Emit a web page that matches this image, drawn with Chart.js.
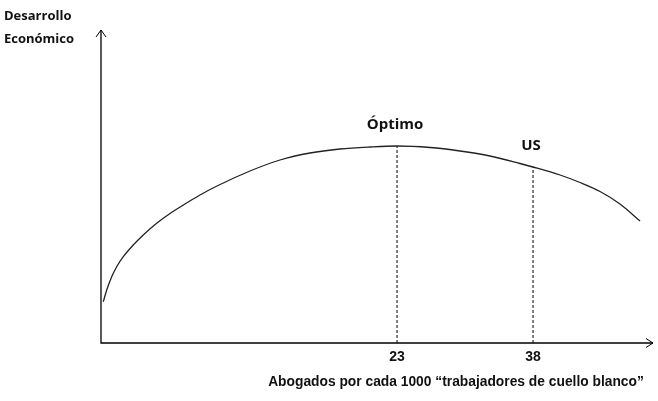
<!DOCTYPE html>
<html>
<head>
<meta charset="utf-8">
<script src="https://cdn.jsdelivr.net/npm/chart.js@4/dist/chart.umd.min.js"></script>
<style>
  html, body { margin: 0; padding: 0; background: #fff; }
  #c { display: block; }
</style>
</head>
<body>
<canvas id="c" width="658" height="401"></canvas>
<script>
// ---- data (arbitrary units) ----
const curveX = [-9.40, -9.02, -8.47, -7.92, -7.19, -6.09, -4.99, -3.51, -2.04, -0.57, 1.27, 3.14, 6.78, 10.09, 13.40, 16.71, 20.02, 23, 26.64, 29.94, 33.25, 36.56, 38, 40.98, 43.18, 45.39, 47.59, 49.80];
const curveY = [41.3, 53, 66.3, 76.3, 86.3, 98, 108, 119.7, 129.5, 138, 148, 157, 172, 183, 190, 194, 196, 197, 195.5, 192, 187, 179.5, 176, 168, 160.5, 151.5, 139, 122];
const markerX = [23, 38];
const markerY = [197, 176];
const markerLabels = ["Óptimo", "US"];
const tickValues = [23, 38];
const yTitleLines = ["Desarrollo", "Económico"];
const xTitle = "Abogados por cada 1000 \u201ctrabajadores de cuello blanco\u201d";

const curveData = curveX.map((x, i) => ({ x, y: curveY[i] }));
const dashSets = markerX.map((x, i) => ({
  type: 'line',
  data: [{ x, y: 0 }, { x, y: markerY[i] }],
  borderColor: '#000',
  borderWidth: 1,
  borderDash: [3, 2],
  pointRadius: 0,
  tension: 0
}));

const overlay = {
  id: 'overlay',
  afterDraw(chart) {
    const ctx = chart.ctx;
    const a = chart.chartArea;
    const xs = chart.scales.x, ys = chart.scales.y;
    ctx.save();
    ctx.strokeStyle = '#000';
    ctx.lineWidth = 1.3;
    // axes
    ctx.beginPath();
    ctx.moveTo(a.left, a.top);
    ctx.lineTo(a.left, a.bottom);
    ctx.lineTo(a.right, a.bottom);
    ctx.stroke();
    ctx.lineWidth = 1;
    // y arrow
    ctx.beginPath();
    ctx.moveTo(a.left - 5, a.top + 7);
    ctx.lineTo(a.left, a.top);
    ctx.lineTo(a.left + 5, a.top + 7);
    ctx.stroke();
    // x arrow
    ctx.beginPath();
    ctx.moveTo(a.right - 7, a.bottom - 4.5);
    ctx.lineTo(a.right, a.bottom);
    ctx.lineTo(a.right - 7, a.bottom + 4.5);
    ctx.stroke();
    // marker labels
    ctx.fillStyle = '#111';
    ctx.font = 'bold 15px "Open Sans", sans-serif';
    ctx.textAlign = 'center';
    ctx.textBaseline = 'alphabetic';
    markerX.forEach((x, i) => {
      const px = xs.getPixelForValue(x);
      const py = ys.getPixelForValue(markerY[i]);
      ctx.fillText(markerLabels[i], px - 2, py - 17);
    });
    // y title
    ctx.font = 'bold 13px "Open Sans", sans-serif';
    ctx.textAlign = 'left';
    ctx.fillText(yTitleLines[0], 4, 20);
    ctx.fillText(yTitleLines[1], 4, 43);
    // x title
    ctx.font = 'bold 13.8px "Liberation Sans", sans-serif';
    ctx.textAlign = 'center';
    ctx.fillText(xTitle, 456, 386);
    ctx.restore();
  }
};

new Chart(document.getElementById('c'), {
  type: 'line',
  data: {
    datasets: [
      {
        data: curveData,
        borderColor: '#222',
        borderWidth: 1.3,
        pointRadius: 0,
        cubicInterpolationMode: 'monotone',
        fill: false
      },
      ...dashSets
    ]
  },
  options: {
    responsive: false,
    animation: false,
    events: [],
    layout: { padding: { left: 101, right: 5, top: 30, bottom: 0 } },
    plugins: { legend: { display: false }, tooltip: { enabled: false } },
    scales: {
      x: {
        type: 'linear',
        min: -9.65,
        max: 51.23,
        grid: { display: false, drawTicks: false },
        border: { display: false },
        afterBuildTicks: s => { s.ticks = tickValues.map(v => ({ value: v })); },
        afterFit: s => { s.height = 58; },
        ticks: {
          color: '#111',
          padding: 6,
          font: { family: '"Liberation Sans", sans-serif', size: 14, weight: 'bold' },
          callback: v => String(v),
          maxRotation: 0
        }
      },
      y: {
        display: false,
        min: 0,
        max: 313
      }
    }
  },
  plugins: [overlay]
});
</script>
</body>
</html>
